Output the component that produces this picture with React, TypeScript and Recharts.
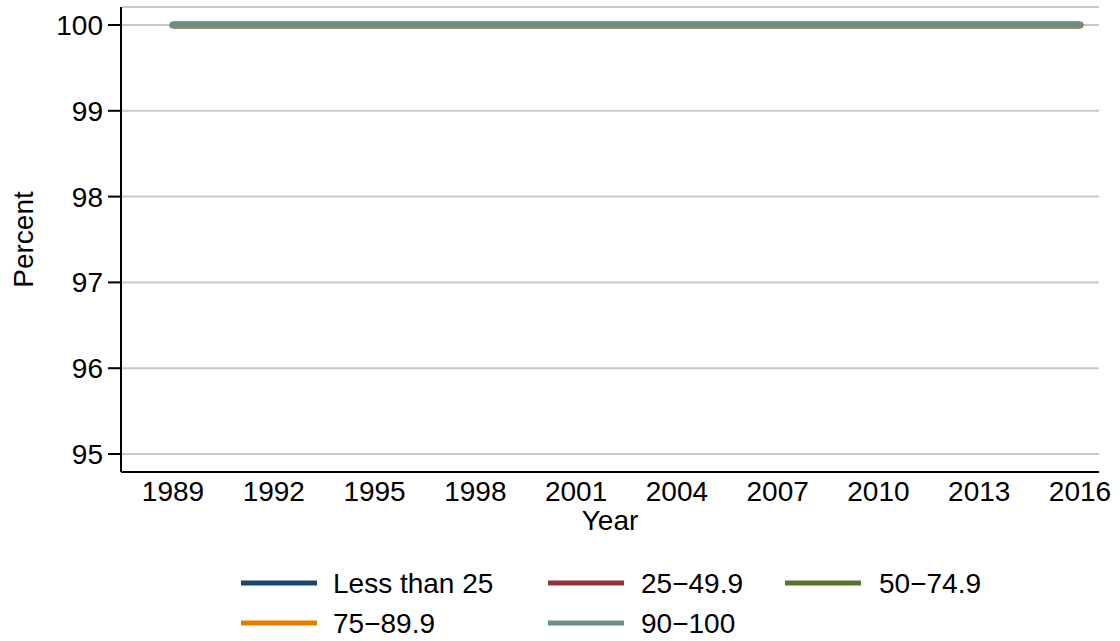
import React from 'react';
import { LineChart, Line, XAxis, YAxis, CartesianGrid, Legend } from 'recharts';

const years = [1989, 1992, 1995, 1998, 2001, 2004, 2007, 2010, 2013, 2016];
const lessThan25 = [100, 100, 100, 100, 100, 100, 100, 100, 100, 100];
const from25to49 = [100, 100, 100, 100, 100, 100, 100, 100, 100, 100];
const from50to74 = [100, 100, 100, 100, 100, 100, 100, 100, 100, 100];
const from75to89 = [100, 100, 100, 100, 100, 100, 100, 100, 100, 100];
const from90to100 = [100, 100, 100, 100, 100, 100, 100, 100, 100, 100];
const yTicks = [95, 96, 97, 98, 99, 100];
const xTicks = years;

const seriesNames = ['Less than 25', '25\u221249.9', '50\u221274.9', '75\u221289.9', '90\u2212100'];
const seriesValues = [lessThan25, from25to49, from50to74, from75to89, from90to100];
const seriesColors = ['#1a476f', '#90353b', '#55752f', '#e37e00', '#6e8e84'];

const data = years.map((y, i) => {
  const row: Record<string, number> = { year: y };
  seriesValues.forEach((vals, k) => {
    row['s' + k] = vals[i];
  });
  return row;
});

const FONT = '"Liberation Sans", Arial, Helvetica, sans-serif';

const legendPos = [
  { keyX: 241, textX: 333, y: 28 },
  { keyX: 548, textX: 641, y: 28 },
  { keyX: 785, textX: 879, y: 28 },
  { keyX: 241, textX: 333, y: 68 },
  { keyX: 548, textX: 641, y: 68 },
];

const renderLegend = () => (
  <svg width={1120} height={86} style={{ display: 'block' }}>
    {seriesNames.map((name, i) => (
      <g key={name}>
        <line
          x1={legendPos[i].keyX}
          x2={legendPos[i].keyX + 76}
          y1={legendPos[i].y}
          y2={legendPos[i].y}
          stroke={seriesColors[i]}
          strokeWidth={5}
        />
        <text
          x={legendPos[i].textX}
          y={legendPos[i].y + 10}
          fontSize={28}
          fontFamily={FONT}
          fill="#000"
        >
          {name}
        </text>
      </g>
    ))}
  </svg>
);

const YLabel = (props: any) => {
  const vb = props.viewBox || {};
  const cy = (vb.y || 0) + (vb.height || 0) / 2;
  return (
    <text
      x={33}
      y={cy}
      transform={`rotate(-90, 33, ${cy})`}
      textAnchor="middle"
      fontSize={28}
      fontFamily={FONT}
      fill="#000"
    >
      Percent
    </text>
  );
};

const XLabel = (props: any) => {
  const vb = props.viewBox || {};
  const cx = (vb.x || 0) + (vb.width || 0) / 2;
  return (
    <text x={cx} y={530} textAnchor="middle" fontSize={28} fontFamily={FONT} fill="#000">
      Year
    </text>
  );
};

export default function App() {
  return (
    <div style={{ position: 'absolute', left: 0, top: 0, width: 1120, height: 641, background: '#fff' }}>
      <LineChart
        width={1120}
        height={641}
        data={data}
        margin={{ top: 7, right: 21, bottom: 109, left: 0 }}
      >
        <CartesianGrid horizontal={true} vertical={false} stroke="#c8c8c8" strokeWidth={2} />
        <XAxis
          dataKey="year"
          type="number"
          domain={[1989, 2016]}
          ticks={xTicks}
          padding={{ left: 52, right: 19 }}
          tickLine={false}
          tickSize={0}
          tickMargin={9}
          height={60}
          axisLine={{ stroke: '#000', strokeWidth: 2 }}
          tick={{ fill: '#000', fontSize: 28, fontFamily: FONT }}
          interval={0}
          label={<XLabel />}
        />
        <YAxis
          type="number"
          domain={[95, 100]}
          ticks={yTicks}
          padding={{ top: 18, bottom: 18 }}
          width={121}
          tickSize={13}
          tickMargin={5}
          tickLine={{ stroke: '#000', strokeWidth: 2 }}
          axisLine={{ stroke: '#000', strokeWidth: 2 }}
          tick={{ fill: '#000', fontSize: 28, fontFamily: FONT }}
          interval={0}
          label={<YLabel />}
        />
        {seriesNames.map((name, k) => (
          <Line
            key={name}
            name={name}
            dataKey={'s' + k}
            stroke={seriesColors[k]}
            strokeWidth={6.5}
            strokeLinecap="round"
            dot={false}
            activeDot={false}
            isAnimationActive={false}
          />
        ))}
        <Legend
          layout="horizontal"
          verticalAlign="middle"
          align="center"
          wrapperStyle={{ position: 'absolute', top: 555, left: 0, width: 1120, height: 86 }}
          content={renderLegend}
        />
      </LineChart>
    </div>
  );
}
